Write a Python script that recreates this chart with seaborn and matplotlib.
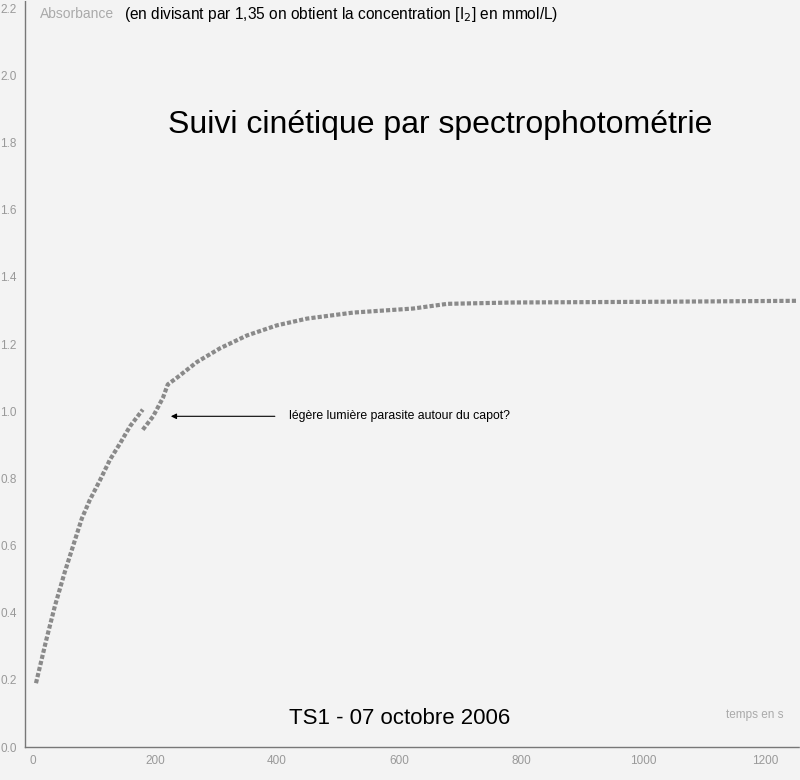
import numpy as np
import pandas as pd
import matplotlib
matplotlib.use("Agg")
import matplotlib.pyplot as plt
import seaborn as sns

# absorbance readings before the glitch (t in s)
t_seg1 = [5, 22, 36, 52, 66, 80, 93, 110, 126, 143, 159, 180]
a_seg1 = [0.19, 0.32, 0.42, 0.52, 0.60, 0.68, 0.735, 0.795, 0.855, 0.905, 0.955, 1.005]
# readings after the glitch
t_seg2 = [180, 197, 213, 221, 236, 269, 307, 351, 400, 449, 525, 623, 679, 787, 1007, 1252]
a_seg2 = [0.945, 0.985, 1.04, 1.08, 1.10, 1.147, 1.188, 1.226, 1.256, 1.276, 1.294, 1.306, 1.32, 1.324, 1.326, 1.329]

x_ticks = [0, 200, 400, 600, 800, 1000, 1200]
y_ticks = [0.0, 0.2, 0.4, 0.6, 0.8, 1.0, 1.2, 1.4, 1.6, 1.8, 2.0, 2.2]

df = pd.concat([
    pd.DataFrame({"t": t_seg1, "A": a_seg1, "seg": "1"}),
    pd.DataFrame({"t": t_seg2, "A": a_seg2, "seg": "2"}),
])

sns.set_style("white")
plt.rcParams["font.family"] = ["Liberation Sans", "DejaVu Sans"]

bg = "#f3f3f3"
fig = plt.figure(figsize=(8, 7.8), dpi=100, facecolor=bg)
ax = fig.add_axes([25 / 800, 1 - 747 / 780, 775 / 800, 747 / 780])
ax.set_facecolor(bg)

sns.lineplot(data=df, x="t", y="A", hue="seg", palette=["#8a8a8a", "#8a8a8a"],
             linewidth=3, linestyle=(0, (1, 0.5)), legend=False, ax=ax, sort=False)

ax.set_xlim(-13, 1257)
ax.set_ylim(0, 2.225)
ax.set_xticks(x_ticks)
ax.set_xticklabels([str(v) for v in x_ticks])
ax.set_yticks(y_ticks)
ax.set_yticklabels([f"{v:.1f}" for v in y_ticks])
ax.tick_params(axis="both", colors="#999999", labelsize=8.5, length=4, width=0.6, pad=2)
ax.set_xlabel("")
ax.set_ylabel("")

for side in ["top", "right"]:
    ax.spines[side].set_visible(False)
for side in ["left", "bottom"]:
    ax.spines[side].set_color("#777777")
    ax.spines[side].set_linestyle((0, (1, 1)))
    ax.spines[side].set_linewidth(1)

# annotation about the glitch
ax.annotate("légère lumière parasite autour du capot?",
            xy=(226, 0.985), xytext=(420, 0.985),
            fontsize=8.8, va="center", ha="left", color="black",
            arrowprops=dict(arrowstyle="-|>", color="black", lw=0.8,
                            shrinkA=8, shrinkB=0, mutation_scale=8))

fig.text(0.55, 1 - 125 / 780, "Suivi cinétique par spectrophotométrie",
         fontsize=23, ha="center", va="center", color="black")
fig.text(0.5, 1 - 718 / 780, "TS1 - 07 octobre 2006",
         fontsize=16, ha="center", va="center", color="black")
fig.text(40 / 800, 1 - 14 / 780, "Absorbance", fontsize=10, ha="left", va="center",
         color="#aaaaaa")
fig.text(124 / 800, 1 - 14 / 780,
         "(en divisant par 1,35 on obtient la concentration [I$_2$] en mmol/L)",
         fontsize=11.2, ha="left", va="center", color="black")
fig.text(783 / 800, 1 - 715 / 780, "temps en s", fontsize=8.5, ha="right", va="center",
         color="#aaaaaa")

fig.savefig("out.png", dpi=100, facecolor=bg)
